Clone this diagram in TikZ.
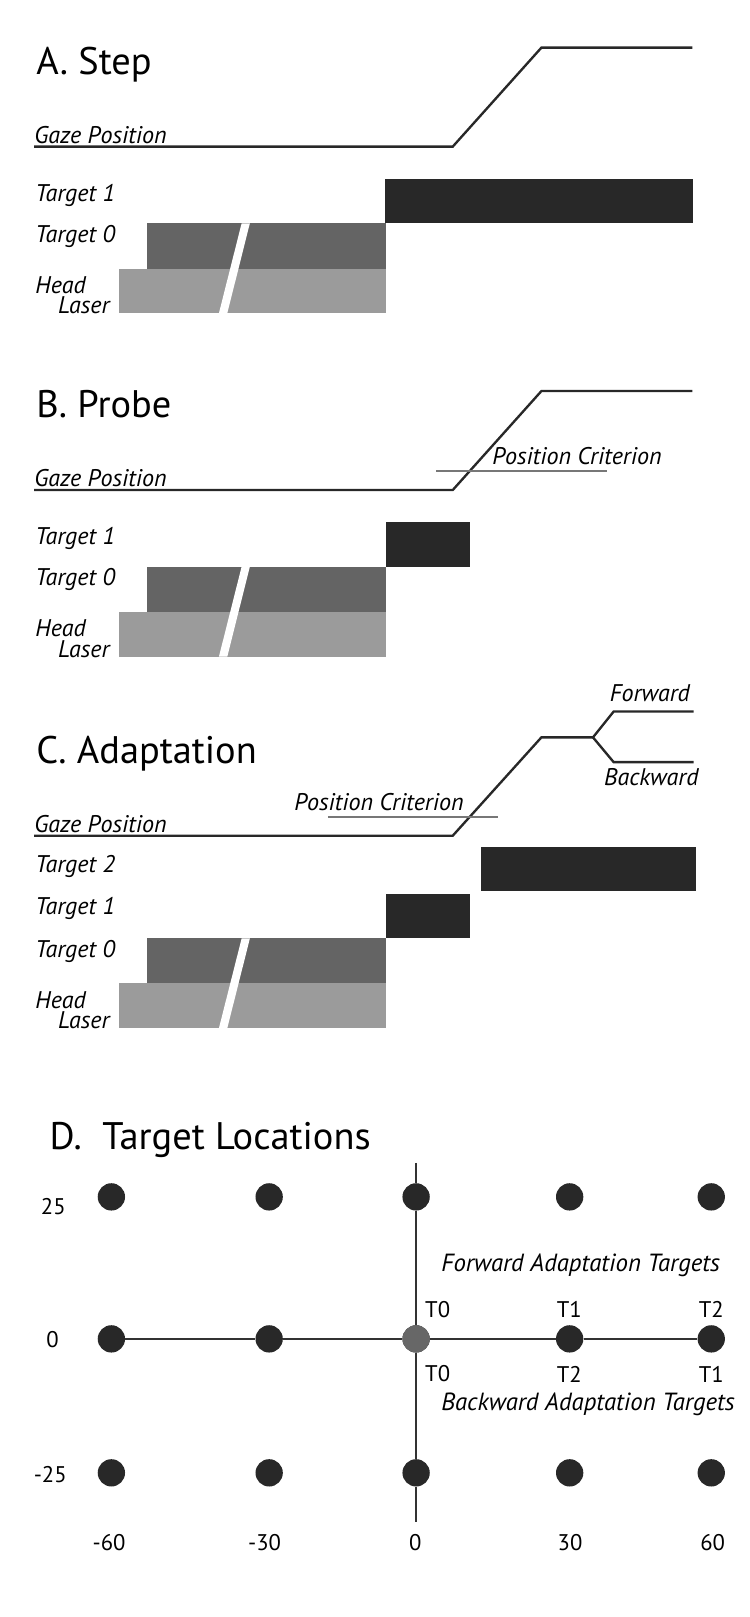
\documentclass[tikz,border=0pt]{standalone}
\usepackage{fontspec}
\setmainfont{PT Sans}
\usepackage{tikz}
\definecolor{ink}{HTML}{282828}
\definecolor{fixgray}{HTML}{646464}
\definecolor{headgray}{HTML}{9B9B9B}
\definecolor{critgray}{HTML}{777777}
\definecolor{axisgray}{HTML}{333333}
\definecolor{startgray}{HTML}{676767}

\begin{document}
\begin{tikzpicture}[x=0.02cm,y=-0.02cm]
    \tikzstyle{panel title}=[anchor=base west,inner sep=0,font=\fontsize{21.2}{25}\selectfont]
    \tikzstyle{row label}=[anchor=base west,inner sep=0,font=\fontsize{13.3}{15}\selectfont\itshape]
    \tikzstyle{gaze line}=[draw=ink,line width=1.3pt]
    \tikzstyle{criterion line}=[draw=critgray,line width=1.1pt]
    \tikzstyle{target bar}=[fill=ink]
    \tikzstyle{fix bar}=[fill=fixgray]
    \tikzstyle{head bar}=[fill=headgray]
    \tikzstyle{gap}=[fill=white]
    \tikzstyle{location}=[circle,fill=ink,inner sep=0,minimum size=0.53cm]
    \tikzstyle{axis line}=[draw=axisgray,line width=1.2pt]
    \tikzstyle{num}=[inner sep=0,font=\fontsize{12.5}{15}\selectfont]

    \useasboundingbox (0,0) rectangle (727,1568);

    % A. Step
    \node(A title)[panel title] at (35,72.7) {A. Step};
    \node(A gaze)[row label] at (33,139) {Gaze Position};
    \path[gaze line] (33,142.2) -- (439,142.2) -- (525,46.2) -- (671.5,46.2);
    \node(A t1)[row label] at (34,195) {Target 1};
    \node(A t0)[row label] at (34,235) {Target 0};
    \node(A head)[row label] at (34,284.5) {Head};
    \node(A laser)[row label] at (56,304.4) {Laser};
    \fill[target bar] (373.8,173.5) rectangle (671.6,216.5);
    \fill[fix bar] (142.2,216.5) rectangle (374,260.4);
    \fill[head bar] (115.4,260.4) rectangle (374,303.7);
    \fill[gap] (234.3,216.5) -- (242.3,216.5) -- (220.4,303.7) -- (212.3,303.7) -- cycle;

    % B. Probe
    \node(B title)[panel title] at (35,404.5) {B. Probe};
    \node(B gaze)[row label] at (33,472) {Gaze Position};
    \path[gaze line] (33,475.2) -- (439,475.2) -- (525,379.2) -- (671.5,379.2);
    \path[criterion line] (423,456.6) -- (589,456.6);
    \node(B crit)[row label] at (477,450.8) {Position Criterion};
    \node(B t1)[row label] at (34,528) {Target 1};
    \node(B t0)[row label] at (34,568) {Target 0};
    \node(B head)[row label] at (34,617.5) {Head};
    \node(B laser)[row label] at (56,637.4) {Laser};
    \fill[target bar] (374,506.5) rectangle (456,549.5);
    \fill[fix bar] (142.2,549.5) rectangle (374,593.4);
    \fill[head bar] (115.4,593.4) rectangle (374,636.7);
    \fill[gap] (234.3,549.5) -- (242.3,549.5) -- (220.4,636.7) -- (212.3,636.7) -- cycle;

    % C. Adaptation
    \node(C title)[panel title] at (35,740) {C. Adaptation};
    \node(C gaze)[row label] at (33,807) {Gaze Position};
    \path[gaze line] (33,810.4) -- (439,810.4) -- (525,715) -- (575,715);
    \path[gaze line] (575,715) -- (595,690) -- (672.5,690);
    \path[gaze line] (575,715) -- (595,739) -- (672.5,739);
    \node(C fwd)[row label] at (591,680) {Forward};
    \node(C bwd)[row label] at (585.5,762) {Backward};
    \path[criterion line] (318,792) -- (483,792);
    \node(C crit)[row label] at (285,786) {Position Criterion};
    \node(C t2)[row label] at (34,846) {Target 2};
    \node(C t1)[row label] at (34,887) {Target 1};
    \node(C t0)[row label] at (34,928.7) {Target 0};
    \node(C head)[row label] at (34,978) {Head};
    \node(C laser)[row label] at (56,997.7) {Laser};
    \fill[target bar] (466,821) rectangle (675,864);
    \fill[target bar] (374,867) rectangle (456,910);
    \fill[fix bar] (142.2,910) rectangle (374,953.5);
    \fill[head bar] (115.4,953.5) rectangle (374,997);
    \fill[gap] (234.3,910) -- (242.3,910) -- (220.4,997) -- (212.3,997) -- cycle;

    % D. Target Locations
    \node(D title)[panel title] at (47.7,1115) {D.\ \ Target Locations};
    \foreach \x/\i in {108/1,261/2,403.5/3,552.4/4,689.7/5}
        \foreach \y/\j in {1160.6/1,1298.3/2,1428.2/3}
            \node(d-\i-\j)[location] at (\x,\y) {};
    \node(d-3-2)[location,fill=startgray] at (403.5,1298.3) {};
    \coordinate(axis top) at (403.5,1127.7);
    \coordinate(axis bottom) at (403.5,1475.6);
    \draw[axis line] (d-1-2) -- (d-2-2) -- (d-3-2) -- (d-4-2) -- (d-5-2);
    \draw[axis line] (axis top) -- (d-3-1) -- (d-3-2) -- (d-3-3) -- (axis bottom);

    \node(y 25)[num] at (51.7,1169.7) {25};
    \node(y 0)[num] at (51,1299) {0};
    \node(y -25)[num] at (48.7,1430) {-25};
    \node(x -60)[num] at (105.8,1495.5) {-60};
    \node(x -30)[num] at (256.5,1495.5) {-30};
    \node(x 0)[num] at (402.6,1495.5) {0};
    \node(x 30)[num] at (552.8,1495.5) {30};
    \node(x 60)[num] at (691,1495.5) {60};

    \node(fwd title)[row label,font=\fontsize{13.7}{16}\selectfont\itshape] at (427.6,1233) {Forward Adaptation Targets};
    \node(fwd t0)[num] at (424.4,1270) {T0};
    \node(fwd t1)[num] at (552,1270) {T1};
    \node(fwd t2)[num] at (689.7,1270) {T2};
    \node(bwd t0)[num] at (424.4,1332.3) {T0};
    \node(bwd t2)[num] at (552,1332.3) {T2};
    \node(bwd t1)[num] at (689.7,1332.3) {T1};
    \node(bwd title)[row label,font=\fontsize{13.7}{16}\selectfont\itshape] at (427.6,1368) {Backward Adaptation Targets};
\end{tikzpicture}
\end{document}
